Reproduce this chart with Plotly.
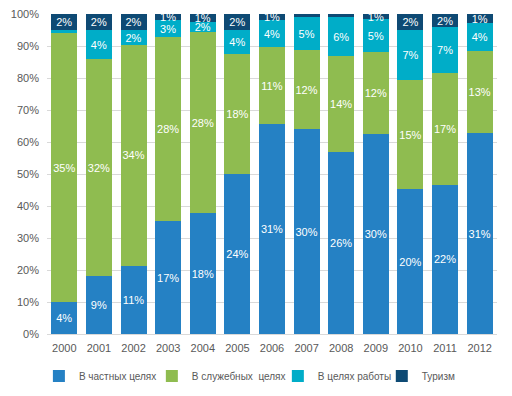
import plotly.graph_objects as go

years = ["2000", "2001", "2002", "2003", "2004", "2005", "2006",
         "2007", "2008", "2009", "2010", "2011", "2012"]

private = [4.2, 8.6, 10.6, 17.1, 18.4, 24.0, 30.8, 30.1, 26.1, 30.05, 19.9, 22.1, 31.1]
business = [35.2, 32.2, 34.2, 27.9, 27.6, 18.0, 11.3, 11.6, 13.75, 12.25, 15.0, 16.6, 12.7]
work = [0.45, 4.3, 2.4, 2.6, 1.55, 3.6, 3.95, 4.85, 5.6, 4.95, 6.85, 6.8, 4.35]
tourism = [2.1, 2.4, 2.45, 0.9, 1.2, 2.35, 0.9, 0.45, 0.45, 0.77, 2.2, 1.95, 1.4]

series_names = ["В частных целях", "В служебных  целях", "В целях работы", "Туризм"]
series_values = [private, business, work, tourism]
colors = ["#2581C4", "#8FBC50", "#00ADC8", "#0E4A74"]
legend_ids = ["legend", "legend2", "legend3", "legend4"]
legend_x = [-0.018, 0.233, 0.513, 0.744]

FONT = "Liberation Sans"


def labels(vals):
    out = []
    for v in vals:
        r = int(v + 0.5) if v >= 0.5 else 0
        out.append(f"{r}%" if r >= 1 else "")
    return out


fig = go.Figure()
for name, vals, col, lg in zip(series_names, series_values, colors, legend_ids):
    fig.add_trace(go.Bar(
        x=years, y=vals, name=name, marker_color=col, marker_line_width=0,
        text=labels(vals), textposition="inside", insidetextanchor="middle",
        textangle=0, legend=lg,
        textfont=dict(color="white", size=11, family=FONT),
        constraintext="none", cliponaxis=False,
    ))

legend_common = dict(orientation="h", xanchor="left", y=-0.131, yanchor="middle",
                     font=dict(size=10, color="#595959", family=FONT), itemwidth=30,
                     bgcolor="rgba(0,0,0,0)")
legends = {lg: dict(x=lx, **legend_common) for lg, lx in zip(legend_ids, legend_x)}

# page body has an 8px margin, so the figure is sized to fit the 512x396 window
fig.update_layout(
    barmode="stack", barnorm="percent", bargap=0.25,
    width=504, height=388,
    margin=dict(l=39, r=15, t=6, b=62, autoexpand=False),
    paper_bgcolor="white", plot_bgcolor="white",
    font=dict(family=FONT, size=11, color="#595959"),
    showlegend=True,
    yaxis=dict(range=[0, 100], dtick=10, ticksuffix="%", showgrid=True,
               gridcolor="#D9D9D9", gridwidth=1, zeroline=False,
               tickfont=dict(size=11, color="#595959"), ticks="", ticklen=0,
               showline=False, ticklabelstandoff=7, ticklabeloverflow="allow"),
    xaxis=dict(showline=True, linecolor="#D9D9D9", linewidth=1, ticks="",
               tickfont=dict(size=11, color="#595959"), ticklabelstandoff=4),
    **legends,
)

fig.write_html("out.html")
